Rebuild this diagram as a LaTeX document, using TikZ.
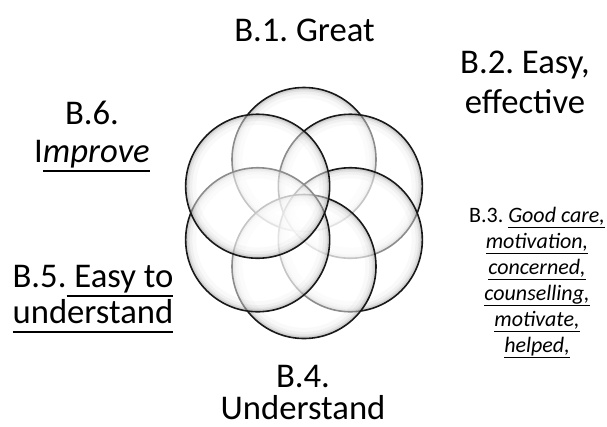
\documentclass[tikz,border=0pt]{standalone}
\usepackage{fontspec}
\setmainfont{Carlito}
\frenchspacing
\newcommand\myul[1]{\setbox0\hbox{#1}\rlap{\rule[-0.29em]{\wd0}{0.06em}}\box0}
\newcommand\mylines[1]{\vtop{\halign{\hfil##\hfil\cr#1\crcr}}}
\begin{document}
\begin{tikzpicture}[x=0.75pt,y=-0.75pt,
  petal/.style={circle, draw=black!90, line width=1.2pt, minimum size=108pt, inner sep=0pt,
    fill=white, fill opacity=0.5,
    path picture={
      \foreach \w/\o in {16/0.025, 10/0.035, 6/0.05, 3.5/0.08}
        \draw[black, line width=\w pt, draw opacity=\o] (path picture bounding box.center) circle (54pt);
    }},
  big/.style={anchor=base, inner sep=0pt, text=black},
  small/.style={anchor=base, inner sep=0pt, text=black, font=\fontsize{16.5}{19.5}\selectfont}]
\useasboundingbox (0,0) rectangle (607,426);
\node[petal] (c1) at (304,159.5) {};
\node[petal] (c2) at (350.33,186.25) {};
\node[petal] (c3) at (350.33,239.75) {};
\node[petal] (c4) at (304,266.5) {};
\node[petal] (c5) at (257.67,239.75) {};
\node[petal] (c6) at (257.67,186.25) {};
\node[big, font=\fontsize{26}{30}\selectfont] (b1) at (304.5,41) {B.1. Great};
\node[big, font=\fontsize{26}{30}\selectfont] (b2) at (525,73) {\mylines{B.2. Easy,\cr effective}};
\node[big, font=\fontsize{26}{28.5}\selectfont] (b6) at (92,124) {\mylines{B.6.\cr I\myul{\itshape mprove}}};
\node[big, font=\fontsize{26}{27}\selectfont] (b5) at (93,287) {\mylines{B.5.\myul{ Easy to}\cr \myul{understand}}};
\node[big, font=\fontsize{26}{24}\selectfont] (b4) at (303,387) {\mylines{B.4.\cr Understand}};
\node[small] (b3) at (537,222) {\mylines{B.3. \myul{\itshape Good care,}\cr \myul{\itshape motivation,}\cr \myul{\itshape concerned,}\cr \myul{\itshape counselling,}\cr \myul{\itshape motivate,}\cr \myul{\itshape helped,}}};
\end{tikzpicture}
\end{document}
